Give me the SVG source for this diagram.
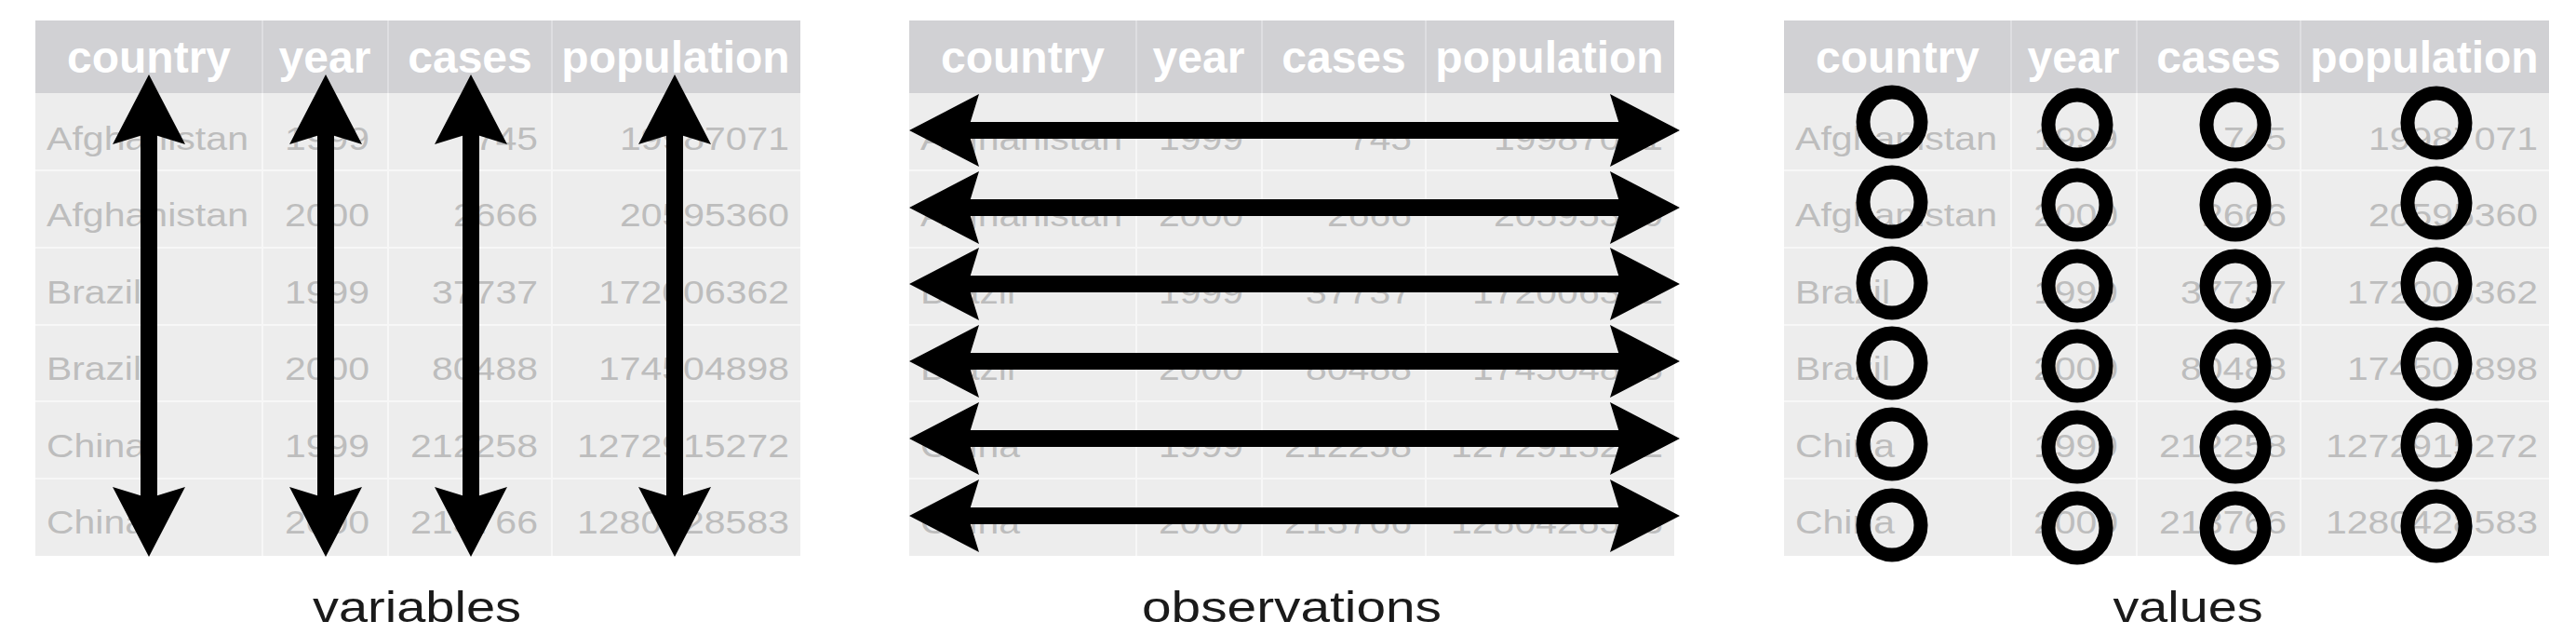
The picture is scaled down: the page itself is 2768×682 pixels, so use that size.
<svg xmlns="http://www.w3.org/2000/svg" width="2768" height="682" viewBox="0 0 2768 682">
<style>
.bg{fill:#ffffff}
.body{fill:#ededed}
.head{fill:#d1d1d4}
.sep{stroke:#f7f7f7;stroke-width:2}
.hsep{stroke:#dedee1;stroke-width:2}
.ht{font-family:"Liberation Sans",Arial,sans-serif;font-weight:bold;font-size:48px;fill:#ffffff;text-anchor:middle}
.t{font-family:"Liberation Sans",Arial,sans-serif;font-size:35px;fill:#bdbdbd;lengthAdjust:spacingAndGlyphs}
.r{text-anchor:end}
.lbl{font-family:"Liberation Sans",Arial,sans-serif;font-size:46px;fill:#1a1a1a;text-anchor:middle}
.arr{stroke:#000;stroke-width:18;marker-start:url(#ah);marker-end:url(#ah)}
.ring{fill:none;stroke:#000;stroke-width:15}
</style>
<defs>
<marker id="ah" viewBox="0 0 75 78" refX="35" refY="39" markerWidth="75" markerHeight="78" markerUnits="userSpaceOnUse" orient="auto-start-reverse">
<path d="M75,39 L0,0 L12,39 L0,78 Z" fill="#000"/>
</marker>
</defs>
<rect class="bg" x="0" y="0" width="2768" height="682"/>

<g id="table-variables">
<rect class="body" x="38" y="100" width="822" height="497"/>
<rect class="head" x="38" y="22" width="822" height="78"/>
<line class="hsep" x1="282" y1="22" x2="282" y2="100"/><line class="hsep" x1="417" y1="22" x2="417" y2="100"/><line class="hsep" x1="593" y1="22" x2="593" y2="100"/>
<line class="sep" x1="282" y1="100" x2="282" y2="597"/><line class="sep" x1="417" y1="100" x2="417" y2="597"/><line class="sep" x1="593" y1="100" x2="593" y2="597"/>
<line class="sep" x1="38" y1="183" x2="860" y2="183"/><line class="sep" x1="38" y1="266" x2="860" y2="266"/><line class="sep" x1="38" y1="349" x2="860" y2="349"/><line class="sep" x1="38" y1="431" x2="860" y2="431"/><line class="sep" x1="38" y1="514" x2="860" y2="514"/>
<text class="ht" x="160" y="78">country</text><text class="ht" x="349" y="78">year</text><text class="ht" x="505" y="78">cases</text><text class="ht" x="726" y="78">population</text>
<text class="t" x="50" y="161" textLength="217" lengthAdjust="spacingAndGlyphs">Afghanistan</text><text class="t r" x="397" y="161" textLength="91" lengthAdjust="spacingAndGlyphs">1999</text><text class="t r" x="578" y="161" textLength="68" lengthAdjust="spacingAndGlyphs">745</text><text class="t r" x="848" y="161" textLength="182" lengthAdjust="spacingAndGlyphs">19987071</text>
<text class="t" x="50" y="243" textLength="217" lengthAdjust="spacingAndGlyphs">Afghanistan</text><text class="t r" x="397" y="243" textLength="91" lengthAdjust="spacingAndGlyphs">2000</text><text class="t r" x="578" y="243" textLength="91" lengthAdjust="spacingAndGlyphs">2666</text><text class="t r" x="848" y="243" textLength="182" lengthAdjust="spacingAndGlyphs">20595360</text>
<text class="t" x="50" y="326" textLength="102" lengthAdjust="spacingAndGlyphs">Brazil</text><text class="t r" x="397" y="326" textLength="91" lengthAdjust="spacingAndGlyphs">1999</text><text class="t r" x="578" y="326" textLength="114" lengthAdjust="spacingAndGlyphs">37737</text><text class="t r" x="848" y="326" textLength="205" lengthAdjust="spacingAndGlyphs">172006362</text>
<text class="t" x="50" y="408" textLength="102" lengthAdjust="spacingAndGlyphs">Brazil</text><text class="t r" x="397" y="408" textLength="91" lengthAdjust="spacingAndGlyphs">2000</text><text class="t r" x="578" y="408" textLength="114" lengthAdjust="spacingAndGlyphs">80488</text><text class="t r" x="848" y="408" textLength="205" lengthAdjust="spacingAndGlyphs">174504898</text>
<text class="t" x="50" y="491" textLength="107" lengthAdjust="spacingAndGlyphs">China</text><text class="t r" x="397" y="491" textLength="91" lengthAdjust="spacingAndGlyphs">1999</text><text class="t r" x="578" y="491" textLength="137" lengthAdjust="spacingAndGlyphs">212258</text><text class="t r" x="848" y="491" textLength="228" lengthAdjust="spacingAndGlyphs">1272915272</text>
<text class="t" x="50" y="573" textLength="107" lengthAdjust="spacingAndGlyphs">China</text><text class="t r" x="397" y="573" textLength="91" lengthAdjust="spacingAndGlyphs">2000</text><text class="t r" x="578" y="573" textLength="137" lengthAdjust="spacingAndGlyphs">213766</text><text class="t r" x="848" y="573" textLength="228" lengthAdjust="spacingAndGlyphs">1280428583</text>
<text class="lbl" x="448" y="668" textLength="224" lengthAdjust="spacingAndGlyphs">variables</text>
</g>

<g id="table-observations">
<rect class="body" x="977" y="100" width="822" height="497"/>
<rect class="head" x="977" y="22" width="822" height="78"/>
<line class="hsep" x1="1221" y1="22" x2="1221" y2="100"/><line class="hsep" x1="1356" y1="22" x2="1356" y2="100"/><line class="hsep" x1="1532" y1="22" x2="1532" y2="100"/>
<line class="sep" x1="1221" y1="100" x2="1221" y2="597"/><line class="sep" x1="1356" y1="100" x2="1356" y2="597"/><line class="sep" x1="1532" y1="100" x2="1532" y2="597"/>
<line class="sep" x1="977" y1="183" x2="1799" y2="183"/><line class="sep" x1="977" y1="266" x2="1799" y2="266"/><line class="sep" x1="977" y1="349" x2="1799" y2="349"/><line class="sep" x1="977" y1="431" x2="1799" y2="431"/><line class="sep" x1="977" y1="514" x2="1799" y2="514"/>
<text class="ht" x="1099" y="78">country</text><text class="ht" x="1288" y="78">year</text><text class="ht" x="1444" y="78">cases</text><text class="ht" x="1665" y="78">population</text>
<text class="t" x="989" y="161" textLength="217" lengthAdjust="spacingAndGlyphs">Afghanistan</text><text class="t r" x="1336" y="161" textLength="91" lengthAdjust="spacingAndGlyphs">1999</text><text class="t r" x="1517" y="161" textLength="68" lengthAdjust="spacingAndGlyphs">745</text><text class="t r" x="1787" y="161" textLength="182" lengthAdjust="spacingAndGlyphs">19987071</text>
<text class="t" x="989" y="243" textLength="217" lengthAdjust="spacingAndGlyphs">Afghanistan</text><text class="t r" x="1336" y="243" textLength="91" lengthAdjust="spacingAndGlyphs">2000</text><text class="t r" x="1517" y="243" textLength="91" lengthAdjust="spacingAndGlyphs">2666</text><text class="t r" x="1787" y="243" textLength="182" lengthAdjust="spacingAndGlyphs">20595360</text>
<text class="t" x="989" y="326" textLength="102" lengthAdjust="spacingAndGlyphs">Brazil</text><text class="t r" x="1336" y="326" textLength="91" lengthAdjust="spacingAndGlyphs">1999</text><text class="t r" x="1517" y="326" textLength="114" lengthAdjust="spacingAndGlyphs">37737</text><text class="t r" x="1787" y="326" textLength="205" lengthAdjust="spacingAndGlyphs">172006362</text>
<text class="t" x="989" y="408" textLength="102" lengthAdjust="spacingAndGlyphs">Brazil</text><text class="t r" x="1336" y="408" textLength="91" lengthAdjust="spacingAndGlyphs">2000</text><text class="t r" x="1517" y="408" textLength="114" lengthAdjust="spacingAndGlyphs">80488</text><text class="t r" x="1787" y="408" textLength="205" lengthAdjust="spacingAndGlyphs">174504898</text>
<text class="t" x="989" y="491" textLength="107" lengthAdjust="spacingAndGlyphs">China</text><text class="t r" x="1336" y="491" textLength="91" lengthAdjust="spacingAndGlyphs">1999</text><text class="t r" x="1517" y="491" textLength="137" lengthAdjust="spacingAndGlyphs">212258</text><text class="t r" x="1787" y="491" textLength="228" lengthAdjust="spacingAndGlyphs">1272915272</text>
<text class="t" x="989" y="573" textLength="107" lengthAdjust="spacingAndGlyphs">China</text><text class="t r" x="1336" y="573" textLength="91" lengthAdjust="spacingAndGlyphs">2000</text><text class="t r" x="1517" y="573" textLength="137" lengthAdjust="spacingAndGlyphs">213766</text><text class="t r" x="1787" y="573" textLength="228" lengthAdjust="spacingAndGlyphs">1280428583</text>
<text class="lbl" x="1388" y="668" textLength="322" lengthAdjust="spacingAndGlyphs">observations</text>
</g>

<g id="table-values">
<rect class="body" x="1917" y="100" width="822" height="497"/>
<rect class="head" x="1917" y="22" width="822" height="78"/>
<line class="hsep" x1="2161" y1="22" x2="2161" y2="100"/><line class="hsep" x1="2296" y1="22" x2="2296" y2="100"/><line class="hsep" x1="2472" y1="22" x2="2472" y2="100"/>
<line class="sep" x1="2161" y1="100" x2="2161" y2="597"/><line class="sep" x1="2296" y1="100" x2="2296" y2="597"/><line class="sep" x1="2472" y1="100" x2="2472" y2="597"/>
<line class="sep" x1="1917" y1="183" x2="2739" y2="183"/><line class="sep" x1="1917" y1="266" x2="2739" y2="266"/><line class="sep" x1="1917" y1="349" x2="2739" y2="349"/><line class="sep" x1="1917" y1="431" x2="2739" y2="431"/><line class="sep" x1="1917" y1="514" x2="2739" y2="514"/>
<text class="ht" x="2039" y="78">country</text><text class="ht" x="2228" y="78">year</text><text class="ht" x="2384" y="78">cases</text><text class="ht" x="2605" y="78">population</text>
<text class="t" x="1929" y="161" textLength="217" lengthAdjust="spacingAndGlyphs">Afghanistan</text><text class="t r" x="2276" y="161" textLength="91" lengthAdjust="spacingAndGlyphs">1999</text><text class="t r" x="2457" y="161" textLength="68" lengthAdjust="spacingAndGlyphs">745</text><text class="t r" x="2727" y="161" textLength="182" lengthAdjust="spacingAndGlyphs">19987071</text>
<text class="t" x="1929" y="243" textLength="217" lengthAdjust="spacingAndGlyphs">Afghanistan</text><text class="t r" x="2276" y="243" textLength="91" lengthAdjust="spacingAndGlyphs">2000</text><text class="t r" x="2457" y="243" textLength="91" lengthAdjust="spacingAndGlyphs">2666</text><text class="t r" x="2727" y="243" textLength="182" lengthAdjust="spacingAndGlyphs">20595360</text>
<text class="t" x="1929" y="326" textLength="102" lengthAdjust="spacingAndGlyphs">Brazil</text><text class="t r" x="2276" y="326" textLength="91" lengthAdjust="spacingAndGlyphs">1999</text><text class="t r" x="2457" y="326" textLength="114" lengthAdjust="spacingAndGlyphs">37737</text><text class="t r" x="2727" y="326" textLength="205" lengthAdjust="spacingAndGlyphs">172006362</text>
<text class="t" x="1929" y="408" textLength="102" lengthAdjust="spacingAndGlyphs">Brazil</text><text class="t r" x="2276" y="408" textLength="91" lengthAdjust="spacingAndGlyphs">2000</text><text class="t r" x="2457" y="408" textLength="114" lengthAdjust="spacingAndGlyphs">80488</text><text class="t r" x="2727" y="408" textLength="205" lengthAdjust="spacingAndGlyphs">174504898</text>
<text class="t" x="1929" y="491" textLength="107" lengthAdjust="spacingAndGlyphs">China</text><text class="t r" x="2276" y="491" textLength="91" lengthAdjust="spacingAndGlyphs">1999</text><text class="t r" x="2457" y="491" textLength="137" lengthAdjust="spacingAndGlyphs">212258</text><text class="t r" x="2727" y="491" textLength="228" lengthAdjust="spacingAndGlyphs">1272915272</text>
<text class="t" x="1929" y="573" textLength="107" lengthAdjust="spacingAndGlyphs">China</text><text class="t r" x="2276" y="573" textLength="91" lengthAdjust="spacingAndGlyphs">2000</text><text class="t r" x="2457" y="573" textLength="137" lengthAdjust="spacingAndGlyphs">213766</text><text class="t r" x="2727" y="573" textLength="228" lengthAdjust="spacingAndGlyphs">1280428583</text>
<text class="lbl" x="2351" y="668" textLength="161" lengthAdjust="spacingAndGlyphs">values</text>
</g>

<g id="connectors">
<line class="arr" x1="160" y1="120" x2="160" y2="558"/>
<line class="arr" x1="350" y1="120" x2="350" y2="558"/>
<line class="arr" x1="506" y1="120" x2="506" y2="558"/>
<line class="arr" x1="725" y1="120" x2="725" y2="558"/>
<line class="arr" x1="1017" y1="140" x2="1765" y2="140"/>
<line class="arr" x1="1017" y1="223" x2="1765" y2="223"/>
<line class="arr" x1="1017" y1="305" x2="1765" y2="305"/>
<line class="arr" x1="1017" y1="388" x2="1765" y2="388"/>
<line class="arr" x1="1017" y1="471" x2="1765" y2="471"/>
<line class="arr" x1="1017" y1="554" x2="1765" y2="554"/>
</g>

<g id="value-rings">
<ellipse class="ring" cx="2033" cy="131" rx="31" ry="32"/><ellipse class="ring" cx="2232" cy="134" rx="31" ry="32"/><ellipse class="ring" cx="2402" cy="134" rx="31" ry="32"/><ellipse class="ring" cx="2618" cy="132" rx="31" ry="32"/>
<ellipse class="ring" cx="2033" cy="217" rx="31" ry="32"/><ellipse class="ring" cx="2232" cy="220" rx="31" ry="32"/><ellipse class="ring" cx="2402" cy="220" rx="31" ry="32"/><ellipse class="ring" cx="2618" cy="218" rx="31" ry="32"/>
<ellipse class="ring" cx="2033" cy="304" rx="31" ry="32"/><ellipse class="ring" cx="2232" cy="307" rx="31" ry="32"/><ellipse class="ring" cx="2402" cy="307" rx="31" ry="32"/><ellipse class="ring" cx="2618" cy="305" rx="31" ry="32"/>
<ellipse class="ring" cx="2033" cy="390" rx="31" ry="32"/><ellipse class="ring" cx="2232" cy="393" rx="31" ry="32"/><ellipse class="ring" cx="2402" cy="393" rx="31" ry="32"/><ellipse class="ring" cx="2618" cy="391" rx="31" ry="32"/>
<ellipse class="ring" cx="2033" cy="477" rx="31" ry="32"/><ellipse class="ring" cx="2232" cy="480" rx="31" ry="32"/><ellipse class="ring" cx="2402" cy="480" rx="31" ry="32"/><ellipse class="ring" cx="2618" cy="478" rx="31" ry="32"/>
<ellipse class="ring" cx="2033" cy="564" rx="31" ry="32"/><ellipse class="ring" cx="2232" cy="567" rx="31" ry="32"/><ellipse class="ring" cx="2402" cy="567" rx="31" ry="32"/><ellipse class="ring" cx="2618" cy="565" rx="31" ry="32"/>
</g>
</svg>
